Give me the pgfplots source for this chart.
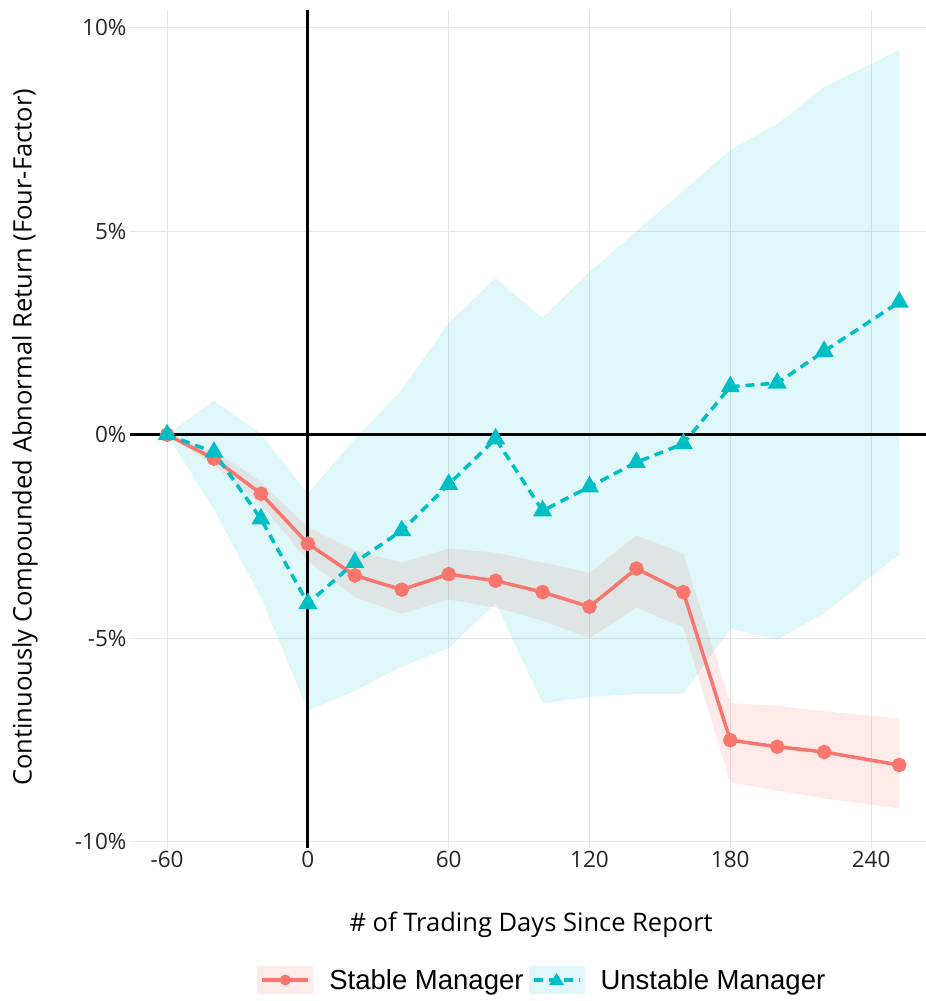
\documentclass[border=0pt]{standalone}
\usepackage{fontspec}
\setmainfont{Open Sans}
\newfontfamily\legfont{Liberation Sans}
\usepackage{pgfplots}
\pgfplotsset{compat=1.18}
\usepgfplotslibrary{fillbetween}
\usepackage{pgfplotstable}
\definecolor{stab}{HTML}{F8766D}
\definecolor{unst}{HTML}{00BFC4}

\pgfplotstableread{
x y lo hi
-60 0 0 0
-40 -0.59 -0.75 -0.40
-20 -1.45 -1.72 -1.15
0 -2.68 -3.10 -2.28
20 -3.46 -4.00 -2.85
40 -3.81 -4.40 -3.14
60 -3.43 -4.05 -2.80
80 -3.59 -4.25 -2.90
100 -3.87 -4.57 -3.14
120 -4.23 -5.00 -3.39
140 -3.29 -4.25 -2.48
160 -3.87 -4.74 -2.92
180 -7.51 -8.55 -6.60
200 -7.67 -8.75 -6.66
220 -7.80 -8.94 -6.80
252 -8.12 -9.19 -6.98
}\stable

\pgfplotstableread{
x y lo hi
-60 0 0 0
-40 -0.43 -1.85 0.84
-20 -2.07 -4.00 0.02
0 -4.15 -6.78 -1.45
20 -3.14 -6.30 -0.10
40 -2.36 -5.70 1.10
60 -1.22 -5.25 2.75
80 -0.10 -4.15 3.85
100 -1.87 -6.60 2.87
120 -1.28 -6.45 4.00
140 -0.68 -6.37 5.00
160 -0.22 -6.37 6.00
180 1.18 -4.77 7.00
200 1.27 -5.04 7.64
220 2.05 -4.39 8.55
252 3.26 -2.95 9.46
}\unstable

\begin{document}
\begin{tikzpicture}
\begin{axis}[
  scale only axis, width=796pt, height=838pt,
  at={(0pt,0pt)}, anchor=south west,
  xmin=-75.8, xmax=263.4, ymin=-10.16, ymax=10.44,
  xtick={-60,0,60,120,180,240},
  ytick={-10,-5,0,5,10},
  yticklabels={-10\%,-5\%,0\%,5\%,10\%},
  grid=major,
  major grid style={color=black!10, line width=1pt},
  axis line style={draw=none},
  major tick length=0pt,
  /pgf/number format/assume math mode=true,
  tick label style={font=\fontsize{22.5}{26}\selectfont, text=black!85},
  xlabel={\# of Trading Days Since Report},
  ylabel={Continuously Compounded Abnormal Return (Four-Factor)},
  label style={font=\fontsize{25.5}{29}\selectfont},
  xlabel style={at={(axis description cs:0.504,-0.092)}, anchor=center},
  ylabel style={at={(axis description cs:-0.132,0.49)}, anchor=center},
  legend style={at={(axis description cs:0.518,-0.1575)}, anchor=center,
    draw=none, fill=none, legend columns=2,
    font=\legfont\fontsize{27.5}{31}\selectfont,
    /tikz/every even column/.append style={column sep=3pt}},
  legend cell align=left,
]
% ribbons
\addplot[name path=sh, draw=none, forget plot] table[x=x,y=hi]{\stable};
\addplot[name path=sl, draw=none, forget plot] table[x=x,y=lo]{\stable};
\addplot[fill=stab, fill opacity=0.15, draw=none, forget plot] fill between[of=sh and sl];
\addplot[name path=uh, draw=none, forget plot] table[x=x,y=hi]{\unstable};
\addplot[name path=ul, draw=none, forget plot] table[x=x,y=lo]{\unstable};
\addplot[fill=unst, fill opacity=0.125, draw=none, forget plot] fill between[of=uh and ul];
% reference lines
\addplot[black, line width=2.8pt, forget plot] coordinates {(-75.8,0) (263.4,0)};
\addplot[black, line width=2.8pt, forget plot] coordinates {(0,-10.16) (0,10.44)};
% series
\addplot[stab, line width=3.5pt, mark=*, mark size=5.5pt, mark options={draw=none}, forget plot] table[x=x,y=y]{\stable};
\addplot[unst, line width=3.5pt, dash pattern=on 9pt off 6pt, mark=triangle*, mark size=7.5pt,
  mark options={solid, draw=none}, forget plot] table[x=x,y=y]{\unstable};
% legend
\addlegendimage{legend image code/.code={
  \fill[stab, fill opacity=0.15, draw=none] (0pt,-14pt) rectangle (56pt,14pt);
  \draw[stab, line width=3.5pt] (5pt,0pt) -- (51pt,0pt);
  \fill[stab, draw=none] (28pt,0pt) circle (5.5pt);
  \path[draw=none] (0pt,0pt) -- (70pt,0pt);
}}
\addlegendentry{Stable Manager}
\addlegendimage{legend image code/.code={
  \fill[unst, fill opacity=0.125, draw=none] (0pt,-14pt) rectangle (56pt,14pt);
  \draw[unst, line width=3.5pt, dash pattern=on 9pt off 6pt] (5pt,0pt) -- (51pt,0pt);
  \fill[unst, draw=none] (28pt,7pt) -- (20.5pt,-5pt) -- (35.5pt,-5pt) -- cycle;
  \path[draw=none] (0pt,0pt) -- (70pt,0pt);
}}
\addlegendentry{Unstable Manager}
\end{axis}
\pgfresetboundingbox
\path[use as bounding box] (-130pt,-153pt) rectangle (796pt,848pt);
\end{tikzpicture}
\end{document}
